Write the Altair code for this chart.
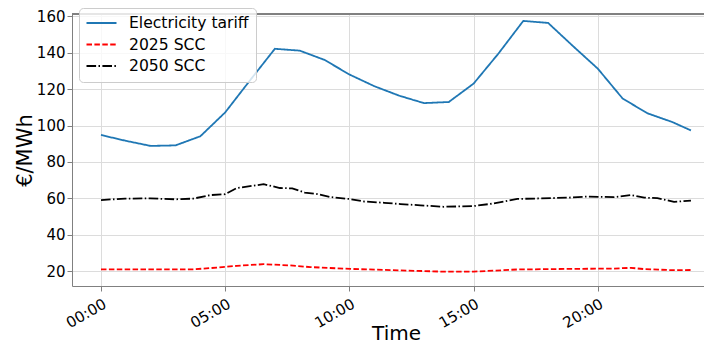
import altair as alt
import pandas as pd

# ---- data ----
tariff_hours = [0, 1, 2, 3, 4, 5, 6, 7, 8, 9, 10, 11, 12, 13, 14, 15, 16, 17, 18, 19, 20, 21, 22, 23, 23.75]
tariff_values = [94.8, 91.6, 88.8, 89.1, 94.1, 107.2, 124.8, 142.1, 141.1, 136.0, 128.0, 121.6, 116.4,
                 112.3, 112.9, 123.0, 139.5, 157.4, 156.3, 143.6, 131.2, 114.8, 106.7, 101.9, 97.3]

scc2025_hours = [0, 1, 2, 3, 3.72, 4.66, 5.47, 6.55, 7.62, 8.43, 10.04, 12.06, 13.8, 15.0, 16.76,
                 18.77, 20.65, 21.33, 21.87, 23.07, 23.75]
scc2025_values = [21.0, 21.1, 21.1, 21.0, 21.1, 22.0, 23.0, 23.9, 23.2, 22.3, 21.3, 20.5, 19.8, 19.8, 21.0,
                  21.3, 21.5, 21.9, 21.2, 20.6, 20.7]

scc2050_hours = [0, 0.97, 1.98, 3.0, 3.72, 4.39, 5.0, 5.47, 6.55, 7.2, 7.7, 8.2, 8.7, 9.25, 10.0, 10.6,
                 11.4, 12.06, 12.86, 13.8, 15.0, 15.8, 16.76, 17.7, 18.77, 19.58, 20.65, 21.33, 21.87,
                 22.4, 23.07, 23.75]
scc2050_values = [59.1, 59.9, 60.0, 59.5, 59.9, 61.8, 62.3, 65.7, 67.8, 65.7, 65.5, 63.2, 62.4, 60.7, 59.7,
                  58.3, 57.6, 56.9, 56.2, 55.4, 55.8, 57.2, 59.7, 60.0, 60.4, 61.0, 60.7, 61.8, 60.4,
                  60.2, 58.1, 58.8]

series_names = ["Electricity tariff", "2025 SCC", "2050 SCC"]
series_colors = ["#1f77b4", "#ff0000", "#000000"]
series_dashes = [[1, 0], [5.5, 2.4], [9.6, 2.4, 1.5, 2.4]]

x_tick_values = [0, 5, 10, 15, 20]
y_tick_values = [20, 40, 60, 80, 100, 120, 140, 160]

# ---- build table ----
rows = []
for name, hours, vals in [
    (series_names[0], tariff_hours, tariff_values),
    (series_names[1], scc2025_hours, scc2025_values),
    (series_names[2], scc2050_hours, scc2050_values),
]:
    for i, (h, v) in enumerate(zip(hours, vals)):
        rows.append({"series": name, "time": h, "value": v, "idx": i})
df = pd.DataFrame(rows)

W, H = 632, 272

leg = alt.Legend(
    title=None,
    orient="none",
    legendX=7,
    legendY=-6,
    padding=6.5,
    strokeColor="#cccccc",
    fillColor="rgba(255,255,255,0.8)",
    cornerRadius=4,
    labelFont="DejaVu Sans",
    labelFontSize=15.6,
    labelColor="#000000",
    symbolType="M-2,0H2",
    symbolSize=225,
    symbolOffset=7.5,
    symbolStrokeWidth=1.8,
    labelOffset=19,
    rowPadding=3.5,
)

x_enc = alt.X(
    "time:Q",
    scale=alt.Scale(domain=[-1.167, 24.275], nice=False, zero=False),
    axis=alt.Axis(
        values=x_tick_values,
        labelExpr="(datum.value < 10 ? '0' : '') + datum.value + ':00'",
        labelAngle=330,
        labelAlign="right",
        labelBaseline="top",
        labelPadding=5,
        title="Time",
        titleFontSize=20,
        titleX=324,
        titleY=53,
        titleBaseline="alphabetic",
        titleAlign="center",
    ),
)
y_enc = alt.Y(
    "value:Q",
    scale=alt.Scale(domain=[11.93, 161.2], nice=False, zero=False),
    axis=alt.Axis(
        values=y_tick_values,
        title="€/MWh",
        titleFontSize=21,
        titleAngle=270,
        titleX=-41,
        titleY=H / 2,
        titleBaseline="alphabetic",
        titleAlign="center",
    ),
)

lines = alt.Chart(df).mark_line(strokeWidth=1.8).encode(
    x=x_enc,
    y=y_enc,
    color=alt.Color("series:N", scale=alt.Scale(domain=series_names, range=series_colors), legend=leg),
    strokeDash=alt.StrokeDash("series:N", scale=alt.Scale(domain=series_names, range=series_dashes), legend=leg),
    order="idx:Q",
)

top_frame = alt.Chart(df).mark_rule(color="#808080", strokeWidth=1).encode(
    x=alt.value(0), x2=alt.value(W), y=alt.value(0)
)

chart = alt.layer(lines, top_frame).properties(
    width=W,
    height=H,
    autosize="none",
    padding={"left": 64, "top": 6, "right": 0, "bottom": 58},
).configure_view(stroke=None).configure_axis(
    labelFont="DejaVu Sans",
    titleFont="DejaVu Sans",
    labelFontSize=15,
    labelColor="#000000",
    titleColor="#000000",
    titleFontWeight="normal",
    domainColor="#808080",
    tickColor="#808080",
    tickSize=5,
    gridColor="#dcdcdc",
    grid=True,
)

chart.save("out.html", embed_options={"renderer": "svg", "actions": False})
